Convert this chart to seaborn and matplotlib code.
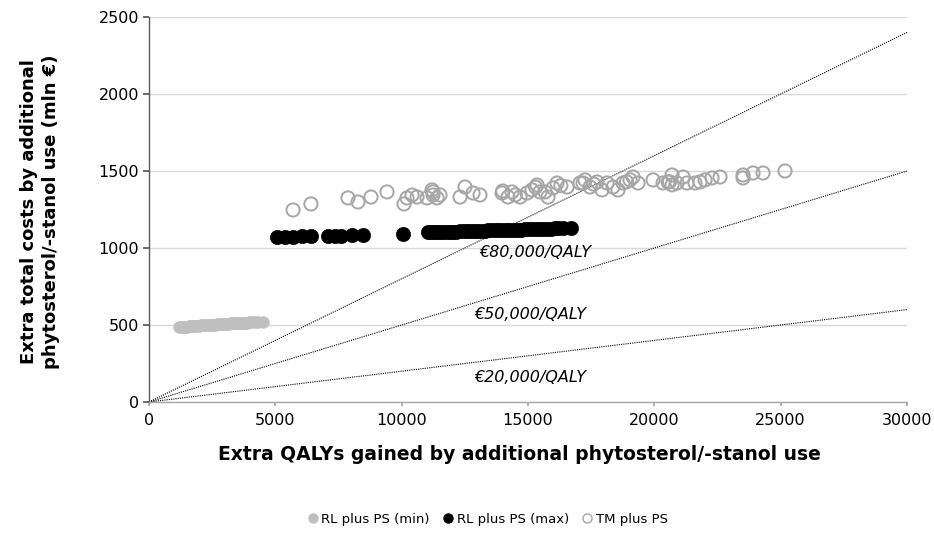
import matplotlib
matplotlib.use("Agg")
import matplotlib.pyplot as plt
import seaborn as sns
import pandas as pd
import numpy as np

# RL plus PS (min): extra QALYs and extra costs (mln EUR)
rl_min_x = [1190, 1260, 1330, 1390, 1450, 1520, 1580, 1650, 1710, 1780,
            1840, 1910, 1980, 2040, 2110, 2170, 2240, 2300, 2370, 2440,
            2500, 2570, 2630, 2700, 2770, 2830, 2900, 2960, 3030, 3100,
            3160, 3230, 3290, 3360, 3430, 3490, 3560, 3620, 3690, 3760,
            3820, 3890, 3960, 4050, 4180, 4320, 4510]
rl_min_y = [484, 486, 487, 488, 488, 490, 491, 492, 492, 494,
            494, 495, 496, 497, 497, 498, 499, 500, 500, 501,
            502, 503, 503, 504, 505, 505, 506, 507, 508, 508,
            509, 510, 510, 511, 512, 512, 513, 514, 514, 515,
            515, 516, 517, 517, 518, 518, 519]

# RL plus PS (max)
rl_max_x = [5070, 5400, 5700, 6050, 6400,
            7100, 7350, 7600, 8050, 8450,
            10050,
            11040, 11150, 11280, 11400, 11520, 11650, 11780, 11900, 12040, 12170,
            12300, 12450, 12580, 12720, 12860, 13000, 13150, 13290, 13430, 13580,
            13720, 13870, 14010, 14150, 14300, 14440, 14590, 14730, 14880, 15020,
            15170, 15310, 15460, 15600, 15750, 15900, 16050, 16200, 16400, 16700]
rl_max_y = [1070, 1072, 1073, 1075, 1077,
            1079, 1080, 1081, 1083, 1085,
            1094,
            1101, 1102, 1103, 1103, 1104, 1105, 1105, 1106, 1107, 1107,
            1108, 1109, 1110, 1110, 1111, 1112, 1112, 1113, 1114, 1115,
            1115, 1116, 1117, 1117, 1118, 1119, 1120, 1120, 1121, 1122,
            1123, 1123, 1124, 1125, 1126, 1126, 1127, 1128, 1129, 1131]

# TM plus PS
tm_x = [5700, 6410, 7876, 8272, 8787, 9420, 10093, 10212, 10410, 10608,
        11003, 11201, 11241, 11400, 11240, 11518, 12309, 12507, 12824, 13101,
        13972, 14209, 14367, 14684, 14961, 15159, 15357, 15476, 15674, 15792,
        15990, 16149, 16545, 17059, 17257, 17178, 17455, 17732, 17930, 18128,
        18366, 18563, 18761, 19038, 19157, 19355, 19949, 20345, 20542, 20700,
        20898, 21136, 21294, 21611, 21809, 22007, 22284, 22600, 23511, 23511,
        23907, 24302, 25173,
        14000, 14500, 15300, 16300, 17600, 18900, 20600, 20700]
tm_y = [1247, 1286, 1325, 1299, 1331, 1364, 1286, 1325, 1344, 1331,
        1325, 1377, 1344, 1325, 1364, 1344, 1331, 1396, 1357, 1344,
        1357, 1331, 1364, 1331, 1357, 1377, 1409, 1364, 1364, 1331,
        1390, 1422, 1396, 1422, 1442, 1422, 1396, 1429, 1377, 1422,
        1396, 1377, 1422, 1442, 1461, 1422, 1442, 1422, 1429, 1474,
        1422, 1461, 1422, 1422, 1429, 1442, 1455, 1461, 1474, 1455,
        1487, 1487, 1500,
        1370, 1345, 1395, 1405, 1415, 1430, 1430, 1410]

# Willingness-to-pay thresholds (EUR per QALY)
wtp = [80000, 50000, 20000]
wtp_labels = ["€80,000/QALY", "€50,000/QALY", "€20,000/QALY"]
wtp_label_pos = [(15300, 968), (15100, 571), (15100, 162)]

x_max = 30000
y_max = 2500

sns.set_theme(style="white")
plt.rcParams["font.family"] = ["DejaVu Sans"]
plt.rcParams["text.color"] = "black"
plt.rcParams["axes.labelcolor"] = "black"

fig = plt.figure(figsize=(9.34, 5.38), dpi=100)
ax = fig.add_axes([149 / 934, 1 - 402 / 538, (907 - 149) / 934, (402 - 17) / 538])

ax.set_xlim(0, x_max)
ax.set_ylim(0, y_max)
ax.set_yticks(np.arange(0, y_max + 1, 500))
ax.set_xticks(np.arange(0, x_max + 1, 5000))
ax.yaxis.grid(True, color="#D9D9D9", linewidth=1.0)
ax.set_axisbelow(True)

# Cost-effectiveness threshold lines
for w in wtp:
    xs = [0, x_max]
    ys = [0, w * x_max / 1e6]
    ax.plot(xs, ys, color="black", linestyle=(0, (1, 1)), linewidth=0.8, zorder=1)

df_min = pd.DataFrame({"x": rl_min_x, "y": rl_min_y})
df_max = pd.DataFrame({"x": rl_max_x, "y": rl_max_y})
df_tm = pd.DataFrame({"x": tm_x, "y": tm_y})

sns.scatterplot(data=df_min, x="x", y="y", ax=ax, color="#BFBFBF", s=70,
                edgecolor="#BFBFBF", linewidth=0.5, zorder=3, legend=False)
sns.scatterplot(data=df_max, x="x", y="y", ax=ax, color="black", s=105,
                edgecolor="black", linewidth=0.5, zorder=3, legend=False)
sns.scatterplot(data=df_tm, x="x", y="y", ax=ax, facecolor="none", s=90,
                edgecolor="#A6A6A6", linewidth=1.4, zorder=3, legend=False)

for lab, (lx, ly) in zip(wtp_labels, wtp_label_pos):
    ax.text(lx, ly, lab, ha="center", va="center", fontsize=11.5,
            style="italic", color="black")

for s in ["top", "right"]:
    ax.spines[s].set_visible(False)
ax.spines["left"].set_color("#595959")
ax.spines["bottom"].set_color("#A6A6A6")
ax.spines["left"].set_linewidth(1.0)
ax.spines["bottom"].set_linewidth(1.0)
ax.tick_params(axis="y", left=True, length=4, color="#595959", labelsize=11.5,
               pad=3, labelcolor="black")
ax.tick_params(axis="x", bottom=True, length=3, color="#A6A6A6", labelsize=11.5,
               pad=5, labelcolor="black")

ax.set_xlabel("Extra QALYs gained by additional phytosterol/-stanol use",
              fontsize=13.5, fontweight="bold")
ax.xaxis.set_label_coords((519 - 149) / 758, -(455 - 402) / 385)
ax.xaxis.label.set_va("center")
ax.set_ylabel("Extra total costs by additional\nphytosterol/-stanol use (mln €)",
              fontsize=13, fontweight="bold", linespacing=1.3)
ax.yaxis.set_label_coords(-(149 - 40) / 758, (402 - 212) / 385)
ax.yaxis.label.set_va("center")

handles = [
    plt.Line2D([], [], marker="o", linestyle="", color="#BFBFBF", markersize=6.5),
    plt.Line2D([], [], marker="o", linestyle="", color="black", markersize=6.5),
    plt.Line2D([], [], marker="o", linestyle="", markerfacecolor="none",
               markeredgecolor="#A6A6A6", markersize=6.5, markeredgewidth=1.0),
]
fig.legend(handles, ["RL plus PS (min)", "RL plus PS (max)", "TM plus PS"],
           loc="center", bbox_to_anchor=(487 / 934, 1 - 519 / 538), ncol=3,
           frameon=False, fontsize=9.5, handletextpad=0.15, columnspacing=0.9,
           handlelength=1.0)

fig.savefig("out.png", dpi=100)
